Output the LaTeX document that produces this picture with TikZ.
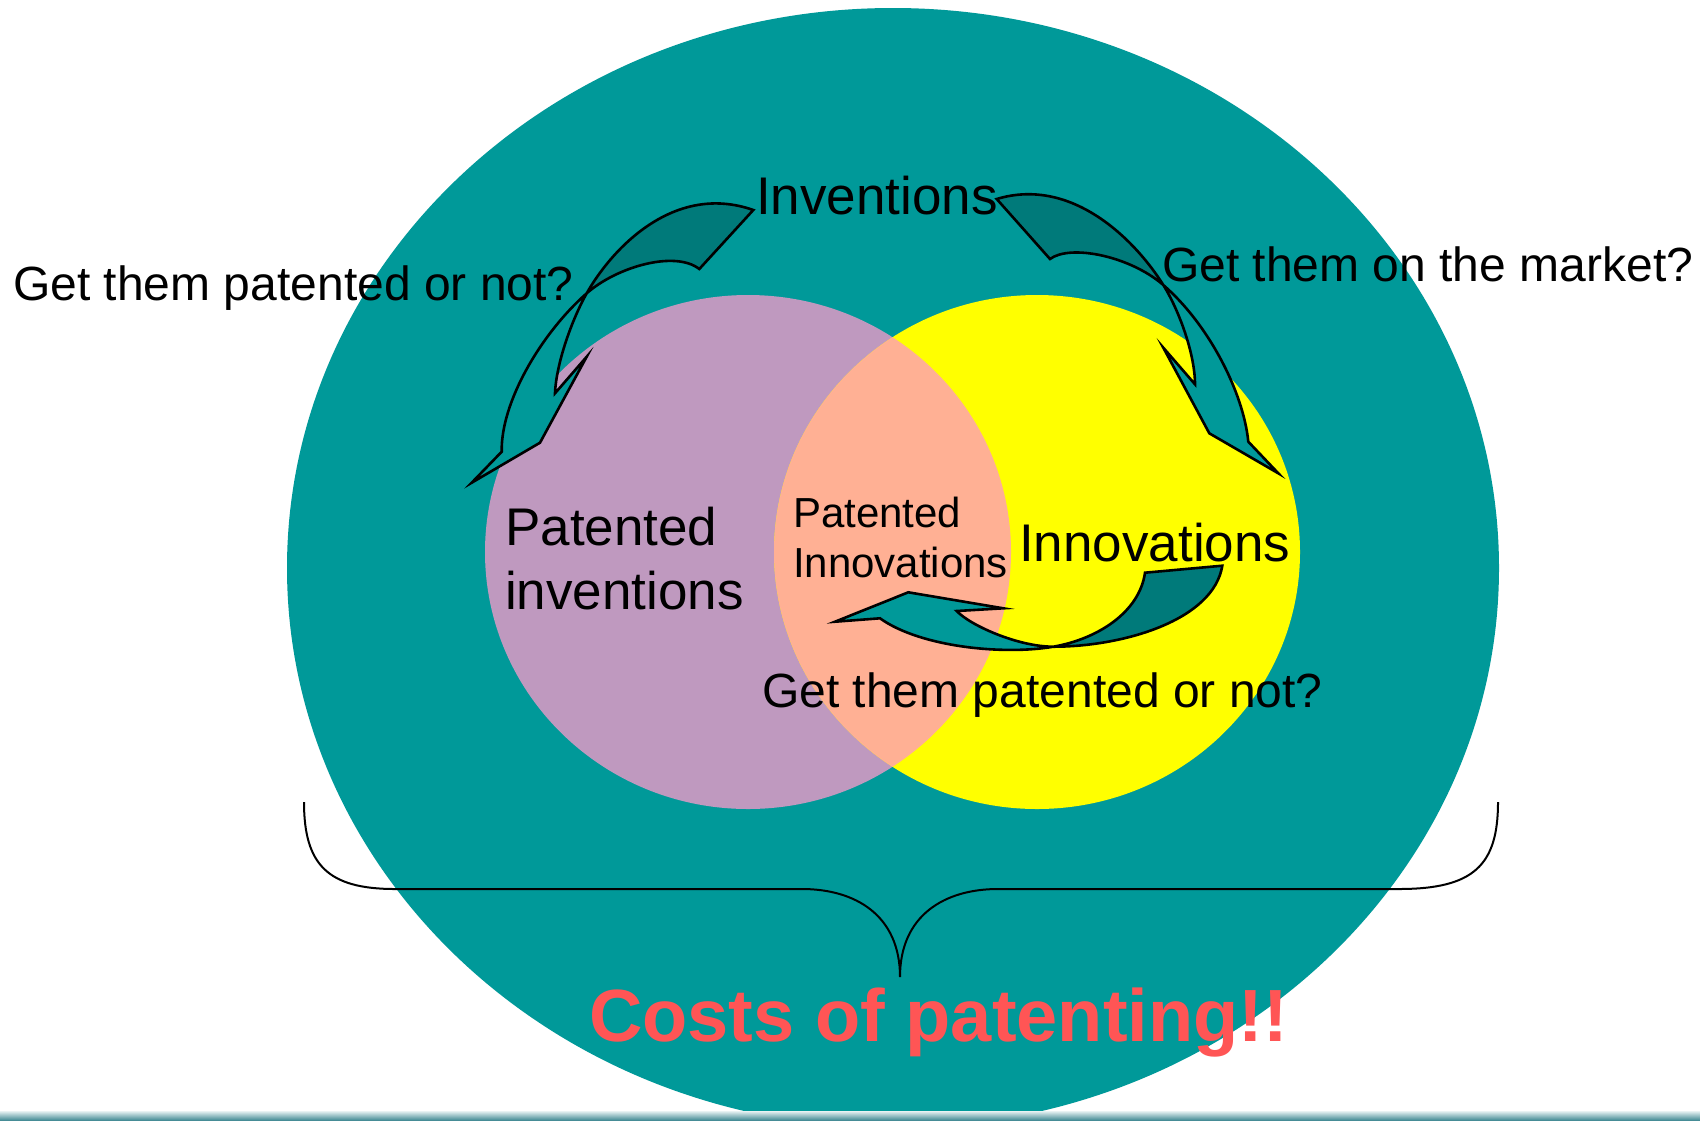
\documentclass[tikz,border=0pt]{standalone}
\usepackage{fontspec}
\setmainfont{Liberation Sans}
\definecolor{bgteal}{RGB}{0,153,153}
\definecolor{darkteal}{RGB}{0,122,122}
\definecolor{lilac}{RGB}{191,153,191}
\definecolor{salmon}{RGB}{255,176,148}
\definecolor{venyellow}{RGB}{255,255,0}
\definecolor{costred}{RGB}{255,85,85}
\definecolor{barlight}{RGB}{232,242,243}
\definecolor{bardark}{RGB}{70,140,150}
\def\arrL{(lA) .. controls (673.3,182) and (611.2,249.8) .. (lX) .. controls (572,319.4) and (556.2,363.3) .. (lN) -- (lIB) -- (lBR) -- (lT) -- (lOB) .. controls (500.7,401.7) and (541.7,332.9) .. (lX) .. controls (616.7,266.9) and (675,250) .. (lB) -- cycle}
\def\arrR{(rA) .. controls (1073.5,175.8) and (1136.8,242.5) .. (rX) .. controls (1179.2,310.5) and (1195,354.3) .. (rN) -- (rIB) -- (rBR) -- (rT) -- (rOB) .. controls (1243.3,391.7) and (1208.3,324) .. (rX) .. controls (1129.6,255.8) and (1070,244) .. (rB) -- cycle}
\def\arrB{(dT1) -- (dT2) .. controls (1213.5,620.2) and (1123.3,646.7) .. (dX) .. controls (1018.3,646.7) and (970.5,625.6) .. (dN) -- (dBR) -- (dHT) -- (dTp) -- (dOB) .. controls (920.5,647.3) and (1004,655.2) .. (dX) .. controls (1097.6,639) and (1139.4,612.3) .. (dT1) -- cycle}
\begin{document}
\begin{tikzpicture}[x=1pt,y=-1pt,
  lbl/.style={inner sep=0pt, anchor=base west, font=\fontsize{48}{56}\selectfont},
  bigtxt/.style={inner sep=0pt, anchor=base west, font=\fontsize{53}{62}\selectfont},
  smalltxt/.style={inner sep=0pt, anchor=base west, font=\fontsize{42}{50}\selectfont},
  costtxt/.style={inner sep=0pt, anchor=base west, font=\fontsize{74}{80}\selectfont\bfseries, text=costred},
  arrowline/.style={draw=black, line width=2.6pt, line join=miter, miter limit=20},
  bracestyle/.style={draw=black, line width=2pt}]
\useasboundingbox (0,0) rectangle (1700,1120);
\clip (0,0) rectangle (1700,1120);
\fill[white] (0,0) rectangle (1700,1120);
% big ellipse
\fill[bgteal] (893,568) ellipse [x radius=606pt, y radius=560pt];
% venn circles
\fill[lilac] (748,552) ellipse [x radius=263pt, y radius=257pt];
\fill[venyellow] (1037,552) ellipse [x radius=263pt, y radius=257pt];
\begin{scope}
  \clip (748,552) ellipse [x radius=263pt, y radius=257pt];
  \fill[salmon] (1037,552) ellipse [x radius=263pt, y radius=257pt];
\end{scope}
% brace
\coordinate (brL) at (304,802);
\coordinate (brL1) at (395,889);
\coordinate (brM1) at (802,889);
\coordinate (brTip) at (900,977);
\coordinate (brM2) at (998,889);
\coordinate (brR1) at (1399,889);
\coordinate (brR) at (1498,802);
\draw[bracestyle] (brL) .. controls (304,865) and (328,889) .. (brL1) -- (brM1)
  .. controls (855,889) and (900,915) .. (brTip)
  .. controls (900,915) and (945,889) .. (brM2) -- (brR1)
  .. controls (1474,889) and (1498,865) .. (brR);
% texts
\node[lbl] (q1) at (13,300) {Get them patented or not?};
\node[lbl] (q2) at (1162,281) {Get them on the market?};
\node[bigtxt] (inv) at (756,214) {Inventions};
\node[bigtxt] (pi1) at (505,545) {Patented};
\node[bigtxt] (pi2) at (505,609) {inventions};
\node[smalltxt] (pn1) at (793,527) {Patented};
\node[smalltxt] (pn2) at (793,577) {Innovations};
\node[bigtxt] (inn) at (1019,561) {Innovations};
\node[lbl] (q3) at (762,707) {Get them patented or not?};
\node[costtxt] (cost) at (589,1041) {Costs of patenting!!};
% arrow key points
\coordinate (lA) at (753.3,210);  \coordinate (lX) at (586.7,293.3);
\coordinate (lN) at (555,393.3);  \coordinate (lIB) at (586.7,356.7);
\coordinate (lBR) at (540,442.7); \coordinate (lT) at (471.7,482.7);
\coordinate (lOB) at (501.7,451.7); \coordinate (lB) at (699.3,269);
\coordinate (rA) at (996.7,199);  \coordinate (rX) at (1163.3,285);
\coordinate (rN) at (1195,384.3); \coordinate (rIB) at (1163.3,347.7);
\coordinate (rBR) at (1209.3,433.3); \coordinate (rT) at (1278.3,473.3);
\coordinate (rOB) at (1248.3,441.7); \coordinate (rB) at (1050,259);
\coordinate (dT1) at (1145,572.7); \coordinate (dT2) at (1222.3,565.7);
\coordinate (dX) at (1053.3,646.7); \coordinate (dN) at (956.7,611);
\coordinate (dBR) at (1003.3,608.3); \coordinate (dHT) at (908.3,592.3);
\coordinate (dTp) at (835,621.7); \coordinate (dOB) at (880,618.3);
% left curved arrow
\fill[bgteal] \arrL;
\begin{scope}
  \clip (918.7,513.3) -- (254.7,73.3) -- (474.7,-258.7) -- (1138.7,181.3) -- cycle;
  \fill[darkteal] \arrL;
\end{scope}
\draw[arrowline] \arrL;
% right curved arrow
\fill[bgteal] \arrR;
\begin{scope}
  \clip (1483.3,45) -- (843.3,525) -- (603.3,205) -- (1243.3,-275) -- cycle;
  \fill[darkteal] \arrR;
\end{scope}
\draw[arrowline] \arrR;
% bottom curved arrow
\fill[bgteal] \arrB;
\begin{scope}
  \clip (1053.3,500) rectangle (1300,700);
  \fill[darkteal] \arrB;
\end{scope}
\draw[arrowline] \arrB;
% bottom bar
\shade[top color=barlight, bottom color=bardark] (0,1111) rectangle (1700,1120);
\end{tikzpicture}
\end{document}
